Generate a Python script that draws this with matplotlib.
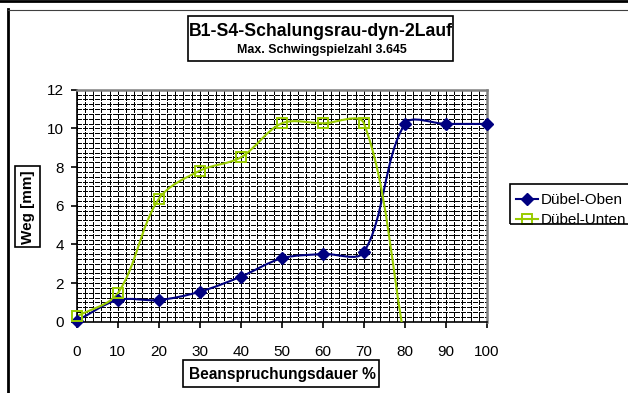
import numpy as np
import matplotlib
matplotlib.use("Agg")
import matplotlib.pyplot as plt
from matplotlib.path import Path
from matplotlib.patches import PathPatch, Rectangle
from matplotlib.lines import Line2D
from matplotlib.transforms import Bbox

# ---- data ----
x_oben = [0, 10, 20, 30, 40, 50, 60, 70, 80, 90, 100]
y_oben = [0.05, 1.12, 1.12, 1.55, 2.33, 3.28, 3.5, 3.6, 10.23, 10.23, 10.23]
x_unten = [0, 10, 20, 30, 40, 50, 60, 70, 80]
y_unten = [0.27, 1.47, 6.35, 7.81, 8.5, 10.26, 10.26, 10.26, -1.0]
series_names = ["Dübel-Oben", "Dübel-Unten"]
x_ticks = [0, 10, 20, 30, 40, 50, 60, 70, 80, 90, 100]
y_ticks = [0, 2, 4, 6, 8, 10, 12]
title = "B1-S4-Schalungsrau-dyn-2Lauf"
subtitle = "Max. Schwingspielzahl 3.645"
xlabel = "Beanspruchungsdauer %"
ylabel = "Weg [mm]"

C_OBEN = "#000080"
C_UNTEN = "#99CC00"

plt.rcParams['font.family'] = ['Liberation Sans', 'DejaVu Sans']
plt.rcParams['lines.scale_dashes'] = False

W, H = 628, 393
fig = plt.figure(figsize=(W / 100, H / 100), dpi=100)

def fx(px):
    return px / W

def fy(py):
    return 1 - py / H

L, R, T, B = 76.7, 487.0, 89.7, 321.7
ax = fig.add_axes([fx(L), fy(B), fx(R) - fx(L), fy(T) - fy(B)])
ax.set_xlim(0, 100)
ax.set_ylim(0, 12)

# dense dashed grid
ax.set_xticks(x_ticks)
ax.set_yticks(y_ticks)
ax.set_xticks(np.arange(0, 100.1, 2), minor=True)
ax.set_yticks(np.arange(0, 12.01, 0.25), minor=True)
ax.grid(True, which='both', color='black', linestyle=(0, (3.0, 1.1)),
        linewidth=0.75, antialiased=False)
ax.tick_params(which='minor', length=0)
ax.tick_params(axis='x', which='major', direction='out', length=4, width=1.2,
               pad=13, labelsize=11)
ax.tick_params(axis='y', which='major', direction='out', length=4, width=1.2,
               pad=5, labelsize=11)
ax.set_axisbelow(True)
for s in ['top', 'right']:
    ax.spines[s].set_color('#808080')
    ax.spines[s].set_linewidth(1.8)
for s in ['left', 'bottom']:
    ax.spines[s].set_color('black')
    ax.spines[s].set_linewidth(1.2)

def smooth_curve(ax, xs, ys):
    pts = ax.transData.transform(np.column_stack([xs, ys]))
    n = len(pts)
    verts = [pts[0]]
    codes = [Path.MOVETO]
    for i in range(n - 1):
        p0 = pts[i - 1] if i > 0 else pts[i]
        p1 = pts[i]
        p2 = pts[i + 1]
        p3 = pts[i + 2] if i + 2 < n else pts[i + 1]
        d0 = np.linalg.norm(p1 - p0)
        d1 = np.linalg.norm(p2 - p1)
        d2 = np.linalg.norm(p3 - p2)
        c1 = p1 + (p2 - p0) * (d1 / (d0 + d1)) / 3.0
        c2 = p2 - (p3 - p1) * (d1 / (d1 + d2)) / 3.0
        verts += [c1, c2, p2]
        codes += [Path.CURVE4] * 3
    data_verts = ax.transData.inverted().transform(np.array(verts))
    return Path(data_verts, codes)

for xs, ys, c in [(x_oben, y_oben, C_OBEN), (x_unten, y_unten, C_UNTEN)]:
    pp = PathPatch(smooth_curve(ax, xs, ys), fill=False, edgecolor=c,
                   linewidth=1.5, transform=ax.transData, zorder=3)
    ax.add_patch(pp)

ax.plot(x_oben, y_oben, linestyle='none', marker='D', markersize=6,
        color=C_OBEN, zorder=4, clip_on=False)
ax.plot(x_unten[:-1], y_unten[:-1], linestyle='none', marker='s', markersize=6.5,
        markerfacecolor='none', markeredgecolor=C_UNTEN, markeredgewidth=1.4,
        zorder=4, clip_on=False)

# ---- boxes and texts ----
def box(x0, y0, x1, y1, lw=1.2, color='black'):
    r = Rectangle((fx(x0), fy(y1)), fx(x1) - fx(x0), fy(y0) - fy(y1),
                  transform=fig.transFigure, fill=False, edgecolor=color,
                  linewidth=lw, zorder=5)
    fig.add_artist(r)
    return r

def clipbox(x0, y0, x1, y1):
    return Bbox.from_extents(x0, H - y1, x1, H - y0)

# outer frame lines
fig.add_artist(Line2D([0, 1], [fy(1.3), fy(1.3)], transform=fig.transFigure,
                      color='black', linewidth=2.0))
fig.add_artist(Line2D([fx(8), fx(8)], [fy(9), 0], transform=fig.transFigure,
                      color='black', linewidth=2.0))
fig.add_artist(Line2D([fx(8), 1], [fy(9.7), fy(9.7)], transform=fig.transFigure,
                      color='#404040', linewidth=0.8))

# title box
box(188, 16, 453, 61)
t = fig.text(fx(321), fy(31), title, ha='center', va='center', fontsize=12.7,
             fontweight='bold')
t.set_clip_box(clipbox(189, 16, 452, 61))
fig.text(fx(322), fy(50), subtitle, ha='center', va='center', fontsize=8.9,
         fontweight='bold')

# y label box
box(15, 166, 40, 247)
t = fig.text(fx(28), fy(207), ylabel, ha='center', va='center', fontsize=11,
             fontweight='bold', rotation=90)
t.set_clip_box(clipbox(15, 166, 40, 247))

# x label box
box(183, 360, 379, 387)
t = fig.text(fx(282), fy(374), xlabel, ha='center', va='center', fontsize=11.2,
             fontweight='bold')
t.set_clip_box(clipbox(183, 360, 379, 387))

# legend (clipped by the frame, as in the original)
box(510, 184, 640, 224)
leg_clip = clipbox(510, 184, 640, 223.5)
for i, (name, c) in enumerate(zip(series_names, [C_OBEN, C_UNTEN])):
    yy = 198.5 + i * 20.5
    ln = Line2D([fx(516), fx(538)], [fy(yy), fy(yy)], transform=fig.transFigure,
                color=c, linewidth=1.5)
    fig.add_artist(ln)
    if i == 0:
        mk = Line2D([fx(527)], [fy(yy)], transform=fig.transFigure, marker='D',
                    markersize=6, color=c, linestyle='none')
    else:
        mk = Line2D([fx(527)], [fy(yy)], transform=fig.transFigure, marker='s',
                    markersize=6.5, markerfacecolor='none', markeredgecolor=c,
                    markeredgewidth=1.4, linestyle='none')
    mk.set_clip_box(leg_clip)
    fig.add_artist(mk)
    tx = fig.text(fx(541), fy(yy + 1.5), name, ha='left', va='center', fontsize=11)
    tx.set_clip_box(leg_clip)

fig.savefig("out.png", dpi=100)
